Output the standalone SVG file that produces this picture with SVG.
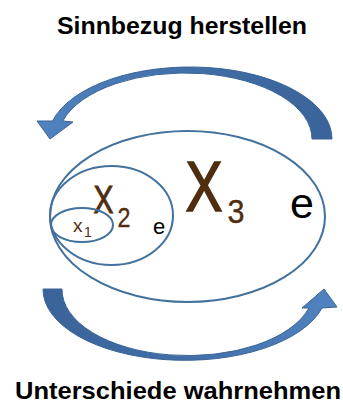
<svg xmlns="http://www.w3.org/2000/svg" width="343" height="406" viewBox="0 0 343 406">
<style>
.title{font-family:"Liberation Sans",Arial,sans-serif;font-weight:bold;font-size:24px;fill:#000}
.ell{fill:none;stroke:#41719c;stroke-width:2}
.br{font-family:"Liberation Sans",Arial,sans-serif;fill:#4f2d0f;stroke:#4f2d0f}
.bk{font-family:"Liberation Sans",Arial,sans-serif;fill:#000}
.arrow{stroke:#3a6597;stroke-width:1}
</style>
<defs>
<linearGradient id="gTop" x1="0" y1="0" x2="1" y2="0">
<stop offset="0" stop-color="#5083c0"/>
<stop offset="0.5" stop-color="#416fa8"/>
<stop offset="1" stop-color="#3a6399"/>
</linearGradient>
<linearGradient id="gBot" x1="0" y1="0" x2="1" y2="0">
<stop offset="0" stop-color="#3a6399"/>
<stop offset="0.5" stop-color="#416fa8"/>
<stop offset="1" stop-color="#5083c0"/>
</linearGradient>
</defs>
<text class="title" x="57" y="34" textLength="250" lengthAdjust="spacingAndGlyphs">Sinnbezug herstellen</text>
<text class="title" x="15" y="399" textLength="326" lengthAdjust="spacingAndGlyphs">Unterschiede wahrnehmen</text>
<g id="connectors">
<path id="arrow-top" class="arrow" fill="url(#gTop)" d="M332,139 A142,72 0 0 0 52.5,121 L37,121 L50,139 L73,122 L62.8,121 A127,66 0 0 1 312,139 Z"/>
<path id="arrow-bottom" class="arrow" fill="url(#gBot)" d="M43,289 A142,71 0 0 0 322,308 L337,307 L324,289 L302,308 L309,308 A126,66 0 0 1 62,289 Z"/>
</g>
<g id="X3">
<ellipse class="ell" cx="187.5" cy="216.5" rx="137.5" ry="85.5"/>
<text class="br" x="185.5" y="210.5" font-size="70" stroke-width="1.6" textLength="37" lengthAdjust="spacingAndGlyphs">X</text>
<text class="br" x="227.5" y="223" font-size="34" stroke-width="0.4" textLength="17" lengthAdjust="spacingAndGlyphs">3</text>
<text class="bk" x="290" y="218" font-size="43">e</text>
</g>
<g id="X2">
<ellipse class="ell" cx="111.5" cy="215.5" rx="61.5" ry="49.5"/>
<text class="br" x="93.5" y="212.5" font-size="38" stroke-width="0.9" textLength="20" lengthAdjust="spacingAndGlyphs">X</text>
<text class="br" x="117.5" y="227" font-size="27" stroke-width="0.3" textLength="13" lengthAdjust="spacingAndGlyphs">2</text>
<text class="bk" x="153" y="234" font-size="22">e</text>
</g>
<g id="X1">
<ellipse class="ell" cx="82" cy="225" rx="31" ry="17"/>
<text class="br" x="73" y="232" font-size="19" stroke-width="0">x</text>
<text class="br" x="84" y="237" font-size="14" stroke-width="0">1</text>
</g>
</svg>
